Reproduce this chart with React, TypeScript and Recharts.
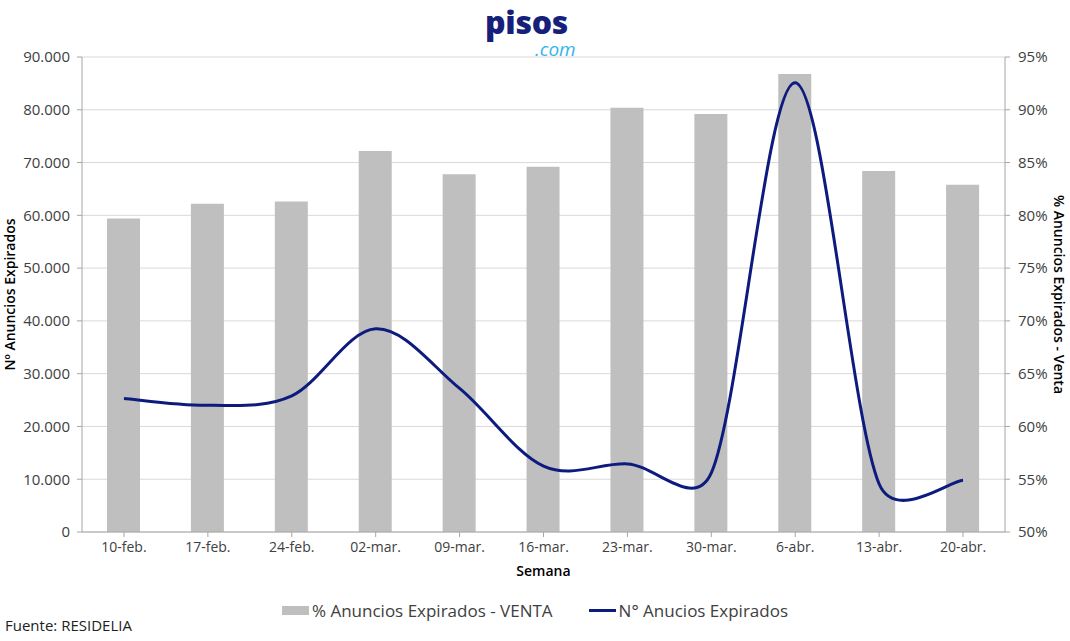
import React from 'react';
import { ComposedChart, Bar, Line, XAxis, YAxis, CartesianGrid, Legend } from 'recharts';

const weeks = ['10-feb.', '17-feb.', '24-feb.', '02-mar.', '09-mar.', '16-mar.', '23-mar.', '30-mar.', '6-abr.', '13-abr.', '20-abr.'];
const pctVenta = [79.7, 81.1, 81.3, 86.1, 83.9, 84.6, 90.2, 89.6, 93.4, 84.2, 82.9];
const numExpirados = [25300, 24000, 25800, 38500, 27200, 12500, 12900, 11200, 85100, 9100, 9800];
const leftTicks = [0, 10000, 20000, 30000, 40000, 50000, 60000, 70000, 80000, 90000];
const rightTicks = [50, 55, 60, 65, 70, 75, 80, 85, 90, 95];

const data = weeks.map((week, i) => ({ week, pct: pctVenta[i], num: numExpirados[i] }));

const FONT = '"Open Sans", sans-serif';
const TEXT = '#404040';
const AXIS = '#a6a6a6';
const NAVY = '#0d1b7e';

// suavizado parecido al de Excel (Bezier con brazos limitados a media longitud del tramo)
function excelCurve(context: any) {
  let pts: number[][] = [];
  const dist = (a: number[], b: number[]) => Math.hypot(b[0] - a[0], b[1] - a[1]);
  return {
    areaStart() {},
    areaEnd() {},
    lineStart() {
      pts = [];
    },
    point(x: number, y: number) {
      pts.push([+x, +y]);
    },
    lineEnd() {
      const n = pts.length;
      if (!n) return;
      context.moveTo(pts[0][0], pts[0][1]);
      for (let i = 0; i < n - 1; i++) {
        const p0 = pts[i - 1] || pts[i];
        const p1 = pts[i];
        const p2 = pts[i + 1];
        const p3 = pts[i + 2] || p2;
        const d12 = dist(p1, p2);
        const d02 = dist(p0, p2);
        const d13 = dist(p1, p3);
        let f1 = 1 / 6;
        if (d02 / 6 > d12 / 2 && d02 > 0) f1 = d12 / (2 * d02);
        let f2 = 1 / 6;
        if (d13 / 6 > d12 / 2 && d13 > 0) f2 = d12 / (2 * d13);
        context.bezierCurveTo(
          p1[0] + (p2[0] - p0[0]) * f1,
          p1[1] + (p2[1] - p0[1]) * f1,
          p2[0] - (p3[0] - p1[0]) * f2,
          p2[1] - (p3[1] - p1[1]) * f2,
          p2[0],
          p2[1]
        );
      }
    },
  };
}

const fmtMiles = (v: number) => (v === 0 ? '0' : v.toLocaleString('de-DE'));

const renderLegend = (props: any) => {
  const items = props.payload || [];
  return (
    <div style={{ display: 'flex', justifyContent: 'center', alignItems: 'center', fontFamily: FONT, fontSize: 17, color: TEXT }}>
      {items.map((it: any, i: number) => (
        <div key={i} style={{ display: 'flex', alignItems: 'center', marginLeft: i ? 36 : 0 }}>
          {it.type === 'rect' ? (
            <span style={{ display: 'inline-block', width: 27, height: 9, background: '#bfbfbf', marginRight: 3 }} />
          ) : (
            <span style={{ display: 'inline-block', width: 27, height: 3, background: NAVY, marginRight: 3 }} />
          )}
          <span>{it.value}</span>
        </div>
      ))}
    </div>
  );
};

export default function App() {
  return (
    <div style={{ position: 'absolute', left: 0, top: 0, width: 1070, height: 641, background: '#fff' }}>
      <div style={{ position: 'absolute', left: 485, top: 0, fontFamily: FONT, fontWeight: 800, fontSize: 32, letterSpacing: -0.3, color: '#161f7a' }}>
        pisos
      </div>
      <div style={{ position: 'absolute', left: 535, top: 44, fontFamily: FONT, fontStyle: 'italic', fontSize: 19, lineHeight: '10px', color: '#35b4ea' }}>
        .com
      </div>
      <ComposedChart width={1070} height={641} data={data} margin={{ top: 57, right: 0, bottom: 40, left: 0 }}>
        <CartesianGrid yAxisId="left" vertical={false} stroke="#d9d9d9" />
        <XAxis
          dataKey="week"
          height={46}
          stroke={AXIS}
          tickSize={5}
          tickMargin={5}
          tick={{ fill: TEXT, fontSize: 14, fontFamily: FONT }}
          label={{ value: 'Semana', position: 'insideBottom', offset: 2, fill: '#000', fontSize: 14, fontWeight: 600, fontFamily: FONT }}
        />
        <YAxis
          yAxisId="left"
          width={82}
          domain={[0, 90000]}
          ticks={leftTicks}
          tickFormatter={fmtMiles}
          stroke={AXIS}
          tickSize={5}
          tickMargin={7}
          tick={{ fill: TEXT, fontSize: 15, fontFamily: FONT }}
          label={{ value: 'Nº Anuncios Expirados', angle: -90, position: 'center', dx: -31, fill: '#000', fontSize: 14, fontWeight: 600, fontFamily: FONT }}
        />
        <YAxis
          yAxisId="right"
          orientation="right"
          width={65}
          domain={[50, 95]}
          ticks={rightTicks}
          tickFormatter={(v: number) => `${v}%`}
          stroke={AXIS}
          tickSize={5}
          tickMargin={8}
          tick={{ fill: TEXT, fontSize: 15, fontFamily: FONT }}
          label={{ value: '% Anuncios Expirados - Venta', angle: 90, position: 'center', dx: 21, fill: '#000', fontSize: 14, fontWeight: 600, fontFamily: FONT }}
        />
        <Legend content={renderLegend} wrapperStyle={{ top: 599, left: 0, width: 1070 }} />
        <Bar yAxisId="right" dataKey="pct" name="% Anuncios Expirados - VENTA" fill="#bfbfbf" barSize={33} isAnimationActive={false} legendType="rect" />
        <Line
          yAxisId="left"
          dataKey="num"
          name="N° Anucios Expirados"
          type={excelCurve as any}
          stroke={NAVY}
          strokeWidth={3}
          dot={false}
          activeDot={false}
          isAnimationActive={false}
          legendType="line"
        />
      </ComposedChart>
      <div style={{ position: 'absolute', left: 5, top: 615, fontFamily: FONT, fontSize: 15, color: '#222' }}>Fuente: RESIDELIA</div>
    </div>
  );
}
